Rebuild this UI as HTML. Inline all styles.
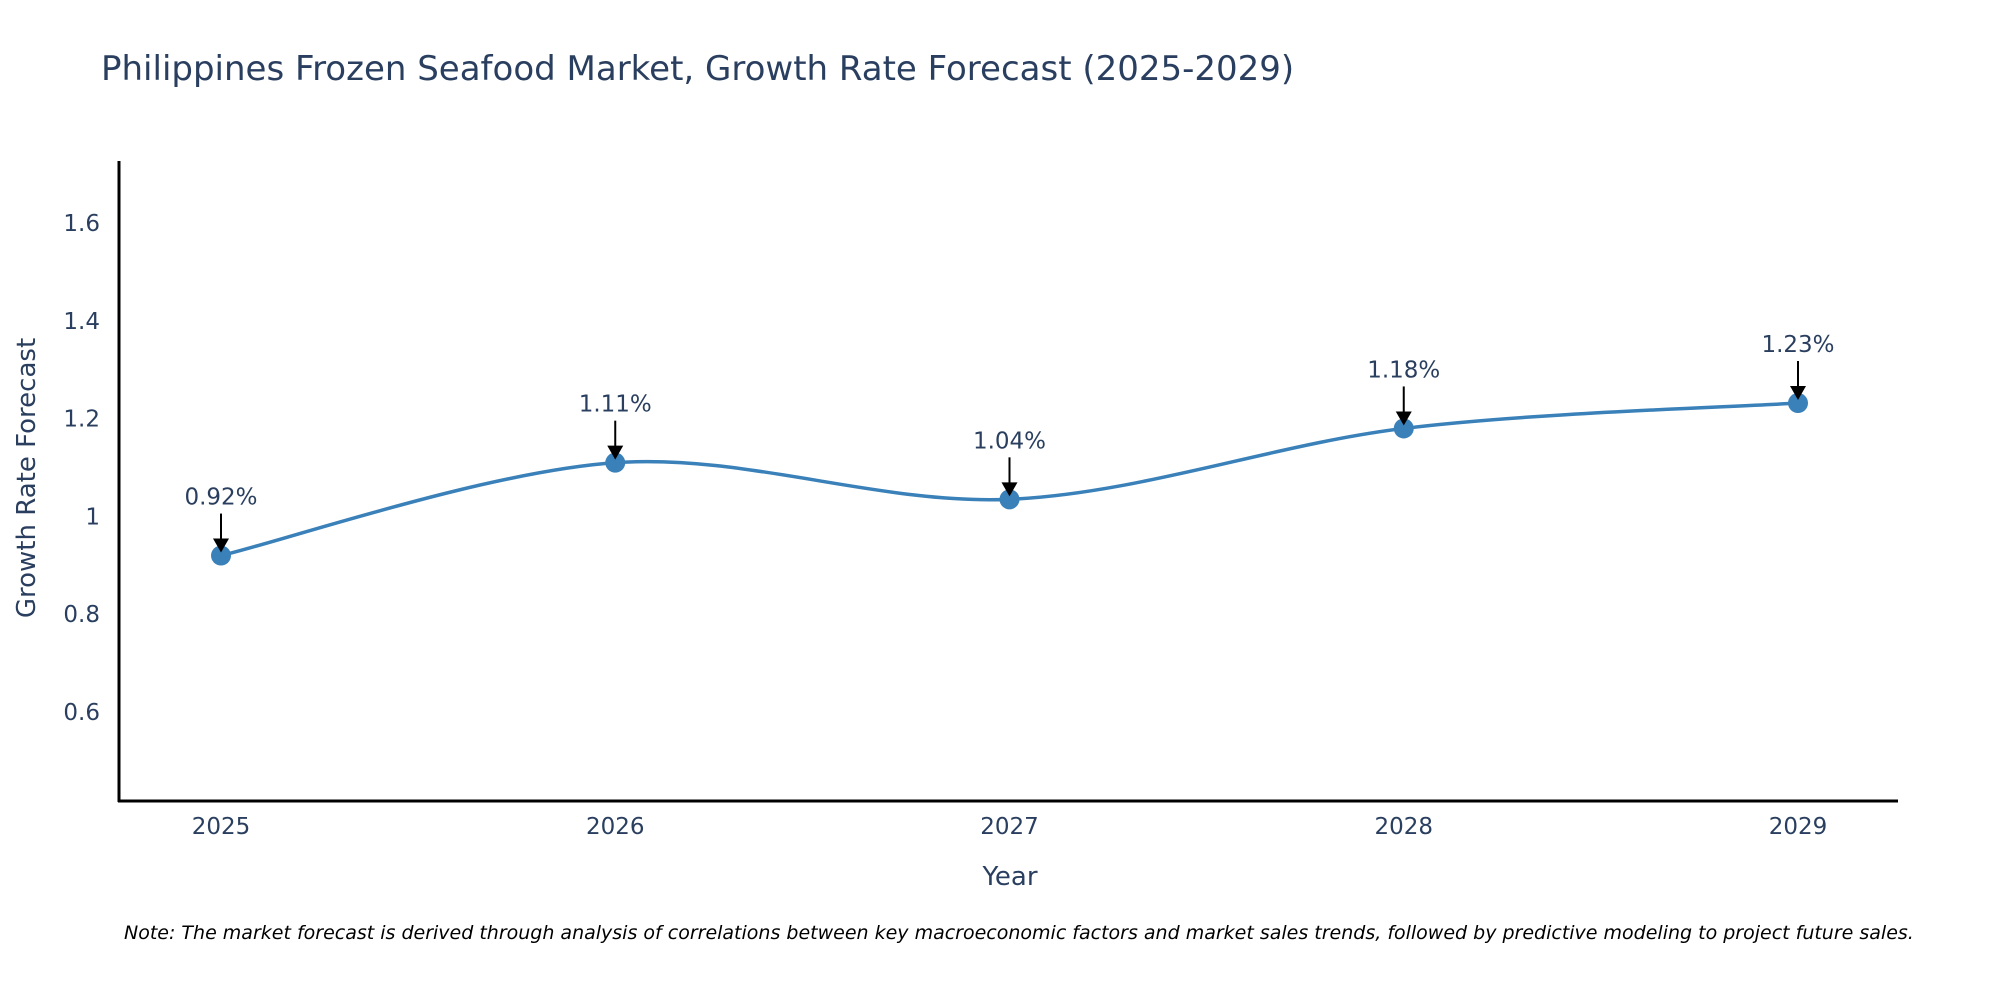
<!DOCTYPE html>
<html><head><meta charset="utf-8"><style>
html,body{margin:0;padding:0;background:#fff;}
svg{display:block;font-family:"DejaVu Sans","Liberation Sans",sans-serif;}
</style></head><body>
<svg id="chart" width="2000" height="1000" viewBox="0 0 2000 1000">
<text x="101" y="80" font-size="34" fill="#2a3f5f">Philippines Frozen Seafood Market, Growth Rate Forecast (2025-2029)</text>
<g id="yticks"></g>
<g id="xticks"></g>
<line x1="119" y1="161" x2="119" y2="802" stroke="#000" stroke-width="3"/>
<line x1="118" y1="801" x2="1898" y2="801" stroke="#000" stroke-width="3"/>
<path id="line" fill="none" stroke="#3a80b9" stroke-width="3.5"/>
<g id="points"></g>
<g id="annots"></g>
<text x="1010" y="885" font-size="26" fill="#2a3f5f" text-anchor="middle">Year</text>
<text transform="translate(35,478) rotate(-90)" font-size="26" fill="#2a3f5f" text-anchor="middle">Growth Rate Forecast</text>
<text x="124" y="939" font-size="19" font-style="italic" fill="#000">Note: The market forecast is derived through analysis of correlations between key macroeconomic factors and market sales trends, followed by predictive modeling to project future sales.</text>
</svg>
<script>
const years = ["2025","2026","2027","2028","2029"];
const values = [0.92, 1.11, 1.035, 1.18, 1.232];
const labels = ["0.92%","1.11%","1.04%","1.18%","1.23%"];
const yTicks = [0.6, 0.8, 1.0, 1.2, 1.4, 1.6];
const yTickLabels = ["0.6","0.8","1","1.2","1.4","1.6"];

const NS="http://www.w3.org/2000/svg";
function xs(i){return 221 + i*394.25;}
function ys(v){return 801 - (v-0.418)/(1.727-0.418)*640;}
function mk(tag,attrs,parent){const e=document.createElementNS(NS,tag);for(const k in attrs)e.setAttribute(k,attrs[k]);parent.appendChild(e);return e;}

const yg=document.getElementById('yticks');
yTicks.forEach((t,i)=>{
  const e=mk('text',{x:100,y:ys(t)+8,'font-size':23,fill:'#2a3f5f','text-anchor':'end'},yg);
  e.textContent=yTickLabels[i];
  
  
});
const xg=document.getElementById('xticks');
years.forEach((y,i)=>{
  const e=mk('text',{x:xs(i),y:834,'font-size':23,fill:'#2a3f5f','text-anchor':'middle'},xg);
  e.textContent=y;
  
  
});

const P=values.map((v,i)=>[xs(i),ys(v)]);
let d=`M${P[0][0]},${P[0][1]}`;
const s=0.33;
for(let i=0;i<P.length-1;i++){
  const p0=P[i-1]||P[i],p1=P[i],p2=P[i+1],p3=P[i+2]||P[i+1];
  const c1=[p1[0]+(p2[0]-p0[0])*s/2*(i===0?1:1),p1[1]+(p2[1]-p0[1])*s/2];
  const c2=[p2[0]-(p3[0]-p1[0])*s/2,p2[1]-(p3[1]-p1[1])*s/2];
  d+=` C${c1[0]},${c1[1]} ${c2[0]},${c2[1]} ${p2[0]},${p2[1]}`;
}
document.getElementById('line').setAttribute('d',d);

const pg=document.getElementById('points'), ag=document.getElementById('annots');
P.forEach((p,i)=>{
  const c=mk('circle',{cx:p[0],cy:p[1],r:10,fill:'#3a80b9'},pg);
  
  
  const l=mk('line',{x1:p[0],y1:p[1]-42,x2:p[0],y2:p[1]-14,stroke:'#000','stroke-width':2},ag);
  
  
  const h=mk('polygon',{points:`${p[0]-8},${p[1]-17} ${p[0]+8},${p[1]-17} ${p[0]},${p[1]-3}`,fill:'#000'},ag);
  
  
  const t=mk('text',{x:p[0],y:p[1]-51,'font-size':23,fill:'#2a3f5f','text-anchor':'middle'},ag);
  t.textContent=labels[i];
  
  
});
</script>
</body></html>
